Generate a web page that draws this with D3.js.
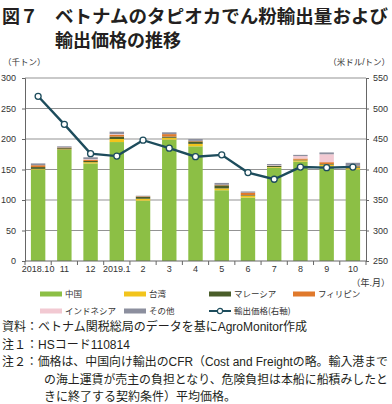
<!DOCTYPE html>
<html>
<head>
<meta charset="utf-8">
<script src="https://cdn.jsdelivr.net/npm/d3@7"></script>
<style>
  body { margin: 0; background: #fff; }
  svg { display: block; font-family: "Liberation Sans", "Noto Sans CJK JP", sans-serif; }
</style>
</head>
<body>
<svg id="chart" width="392" height="404"></svg>
<script>
// month labels and series (thousand tonnes), price (USD/t, right axis)
const months = ["2018.10", "11", "12", "2019.1", "2", "3", "4", "5", "6", "7", "8", "9", "10"];
const china       = [150, 182, 160, 195, 99, 199, 188, 116, 104, 153, 163, 155, 150];
const taiwan      = [1, 1, 2, 5, 3, 3, 4, 3, 3, 1, 2, 3, 3];
const malaysia    = [3, 2, 2, 4, 3, 2, 4, 5, 1, 2, 1, 1, 2];
const philippines = [3, 1, 2, 3, 1, 4, 1, 1, 4, 0, 2, 3, 1];
const indonesia   = [0, 0, 1, 1, 0, 0, 0, 0, 0, 1, 4, 13, 0];
const other       = [3, 2, 3, 4, 1, 3, 3, 3, 2, 2, 2, 3, 5];
const price       = [520, 474, 426, 422, 448, 435, 421, 424, 395, 384, 404, 403, 404];

const leftTicks = [0, 50, 100, 150, 200, 250, 300];
const rightTicks = [250, 300, 350, 400, 450, 500, 550];

const seriesKeys = ["中国", "台湾", "マレーシア", "フィリピン", "インドネシア", "その他"];
const seriesVals = [china, taiwan, malaysia, philippines, indonesia, other];
const colors = ["#8cbf45", "#f2c41c", "#4a5e2a", "#e0792b", "#f2c9d2", "#8c8f9e"];
const lineColor = "#1d4c5c";

const svg = d3.select("#chart");
const mLeft = 25, mRight = 366, mTop = 78, mBottom = 261;

// title
const title = svg.append("g").attr("font-family", "Noto Sans CJK JP").attr("font-weight", "bold")
  .attr("font-size", 18).attr("fill", "#231f20");
title.append("text").attr("x", 2).attr("y", 23).text("図７");
title.append("text").attr("x", 55).attr("y", 23).attr("textLength", 333).attr("lengthAdjust", "spacingAndGlyphs")
  .text("ベトナムのタピオカでん粉輸出量および");
title.append("text").attr("x", 55).attr("y", 47).text("輸出価格の推移");

// units
svg.append("text").attr("x", 3).attr("y", 65).attr("font-size", 8.5).attr("fill", "#333").text("（千トン）");
svg.append("text").attr("x", 390).attr("y", 65).attr("text-anchor", "end").attr("font-size", 8.5).attr("fill", "#333").text("（米ドル/トン）");

// data table
const table = months.map((m, i) => {
  const row = { month: m };
  seriesKeys.forEach((k, j) => { row[k] = seriesVals[j][i]; });
  return row;
});
const stacked = d3.stack().keys(seriesKeys)(table);

// scales
const x = d3.scaleBand().domain(months).range([mLeft, mRight]).paddingInner(0.45).paddingOuter(0.225);
const y = d3.scaleLinear().domain([0, 300]).range([mBottom, mTop]);
const y2 = d3.scaleLinear().domain([250, 550]).range([mBottom, mTop]);

// gridlines
svg.append("g").selectAll("line").data(leftTicks.slice(1)).join("line")
  .attr("x1", mLeft).attr("x2", mRight)
  .attr("y1", d => y(d)).attr("y2", d => y(d))
  .attr("stroke", "#939393").attr("stroke-width", 1);

// bars
svg.append("g").selectAll("g").data(stacked).join("g")
  .attr("fill", (d, i) => colors[i])
  .selectAll("rect").data(d => d).join("rect")
  .attr("x", d => x(d.data.month))
  .attr("y", d => y(d[1]))
  .attr("width", x.bandwidth())
  .attr("height", d => y(d[0]) - y(d[1]));

// left axis
const axL = svg.append("g").attr("transform", `translate(${mLeft},0)`)
  .call(d3.axisLeft(y).tickValues(leftTicks).tickSize(3).tickPadding(6));
// right axis
const axR = svg.append("g").attr("transform", `translate(${mRight},0)`)
  .call(d3.axisRight(y2).tickValues(rightTicks).tickSize(3).tickPadding(4));
[axL, axR].forEach(a => {
  a.select(".domain").attr("stroke", "#666");
  a.selectAll(".tick line").attr("stroke", "#666");
  a.selectAll("text").attr("font-size", 9).attr("fill", "#333").attr("font-family", "Liberation Sans");
});

// bottom axis: labels at bar centres, ticks at band edges
const axB = svg.append("g").attr("transform", `translate(0,${mBottom})`)
  .call(d3.axisBottom(x).tickSize(0).tickPadding(5));
axB.select(".domain").remove();
axB.selectAll("text").attr("font-size", 9).attr("fill", "#333").attr("font-family", "Liberation Sans");
const step = x.step();
const edges = months.map(m => x(m) + x.bandwidth() / 2 - step / 2).concat([x(months[months.length - 1]) + x.bandwidth() / 2 + step / 2]);
svg.append("g").selectAll("line").data(edges).join("line")
  .attr("x1", d => d).attr("x2", d => d)
  .attr("y1", mBottom).attr("y2", mBottom + 4)
  .attr("stroke", "#666");
svg.append("line").attr("x1", mLeft).attr("x2", mRight).attr("y1", mBottom).attr("y2", mBottom).attr("stroke", "#666");
svg.append("text").attr("x", 390).attr("y", 286).attr("text-anchor", "end")
  .attr("font-size", 9).attr("fill", "#333").text("（年.月）");

// price line
const line = d3.line().x((d, i) => x(months[i]) + x.bandwidth() / 2).y(d => y2(d));
svg.append("path").datum(price).attr("d", line)
  .attr("fill", "none").attr("stroke", lineColor).attr("stroke-width", 2.4);
svg.append("g").selectAll("circle").data(price).join("circle")
  .attr("cx", (d, i) => x(months[i]) + x.bandwidth() / 2)
  .attr("cy", d => y2(d))
  .attr("r", 3).attr("fill", "#fff").attr("stroke", lineColor).attr("stroke-width", 1.3);

// legend
const legendItems = seriesKeys.map((k, i) => ({ label: k, color: colors[i], type: "rect" }))
  .concat([{ label: "輸出価格(右軸)", color: lineColor, type: "line" }]);
const legX = [40, 124, 209, 293];
const legY = [294, 311];
const leg = svg.append("g").attr("font-size", 8.5).attr("fill", "#333").attr("font-family", "Noto Sans CJK JP");
legendItems.forEach((d, i) => {
  const gx = legX[i % 4], gy = legY[Math.floor(i / 4)];
  const g = leg.append("g").attr("transform", `translate(${gx},${gy})`);
  if (d.type === "rect") {
    g.append("rect").attr("x", 0).attr("y", -2.5).attr("width", 22).attr("height", 5).attr("fill", d.color);
  } else {
    g.append("line").attr("x1", 0).attr("x2", 22).attr("y1", 0).attr("y2", 0).attr("stroke", d.color).attr("stroke-width", 2);
    g.append("circle").attr("cx", 11).attr("cy", 0).attr("r", 2.6).attr("fill", "#fff").attr("stroke", d.color).attr("stroke-width", 1.2);
  }
  g.append("text").attr("x", 25).attr("y", 3).text(d.label);
});

// notes
const notes = svg.append("g").attr("font-size", 12).attr("fill", "#231f20");
notes.append("text").attr("x", 2).attr("y", 331).text("資料：ベトナム関税総局のデータを基にAgroMonitor作成");
notes.append("text").attr("x", 2).attr("y", 348.5).text("注１：HSコード110814");
notes.append("text").attr("x", 2).attr("y", 366).attr("textLength", 386).attr("lengthAdjust", "spacingAndGlyphs")
  .text("注２：価格は、中国向け輸出のCFR（Cost and Freightの略。輸入港まで");
notes.append("text").attr("x", 44).attr("y", 383.5).attr("textLength", 344).attr("lengthAdjust", "spacingAndGlyphs")
  .text("の海上運賃が売主の負担となり、危険負担は本船に船積みしたと");
notes.append("text").attr("x", 44).attr("y", 400.5).text("きに終了する契約条件）平均価格。");
</script>
</body>
</html>
